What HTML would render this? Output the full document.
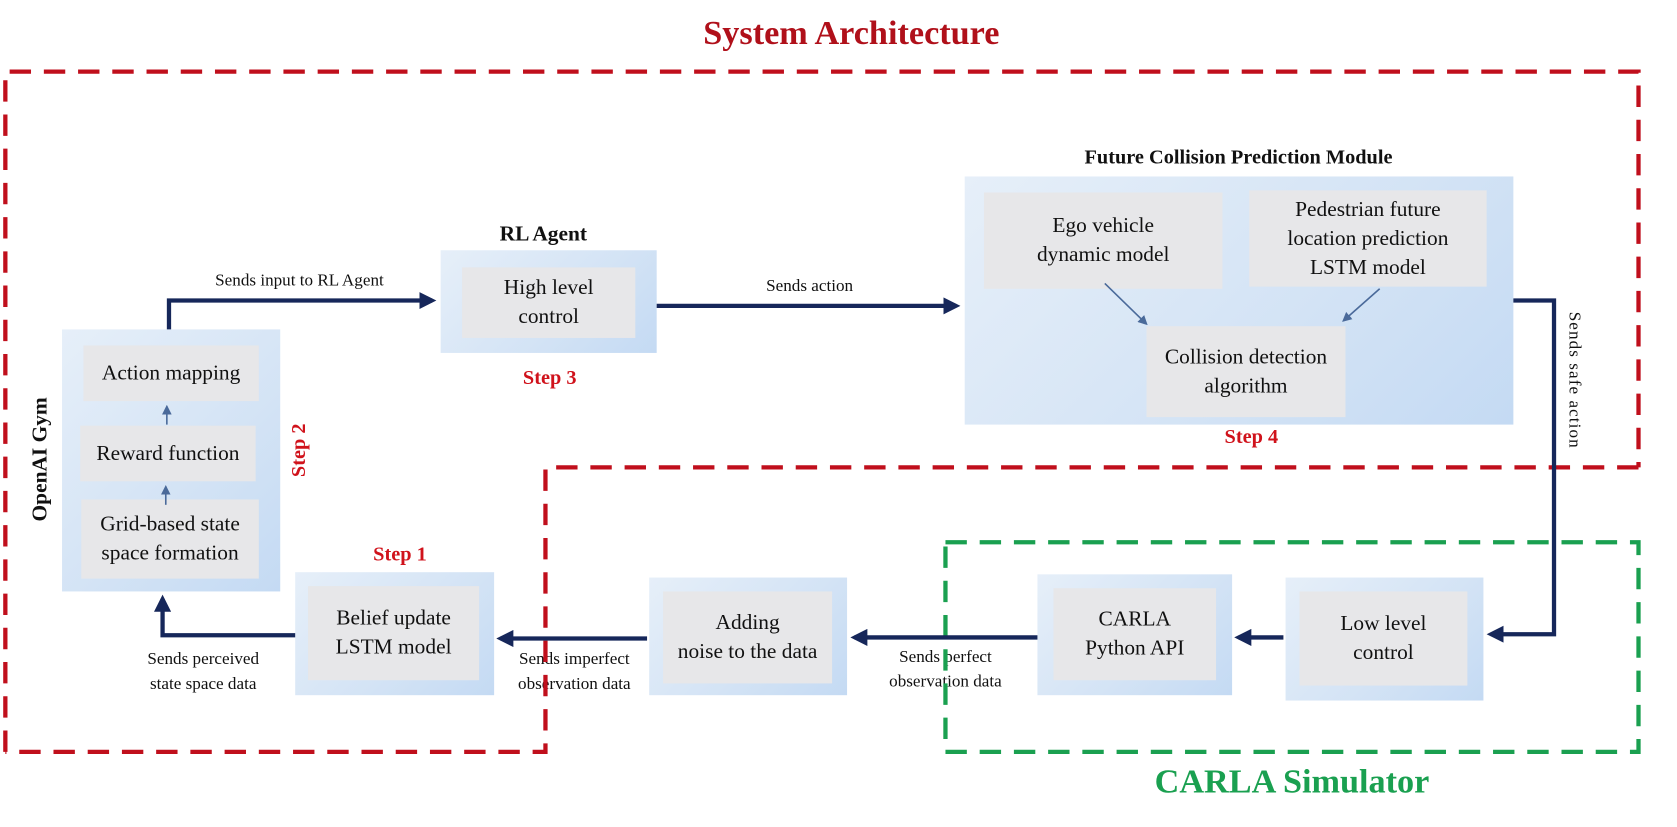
<!DOCTYPE html>
<html><head><meta charset="utf-8"><style>
html,body{margin:0;padding:0;background:#fff;width:1677px;height:827px;overflow:hidden}
#c{position:absolute;left:0;top:0;width:1568px;height:773px;transform:scale(1.06952);transform-origin:0 0;font-family:"Liberation Serif",serif;color:#111}
.p{position:absolute;background:linear-gradient(135deg,#e6eff9 0%,#d3e3f5 60%,#c4daf3 100%)}
.i{position:absolute;background:#e7e7e9;display:flex;align-items:center;justify-content:center;text-align:center;font-size:20px;line-height:27px}
.t{position:absolute;text-align:center;white-space:nowrap}
.lab{font-size:16px;line-height:23px}
.step{color:#d0121b;font-weight:bold;font-size:19px}
svg{position:absolute;left:0;top:0}
</style></head><body><div id="c">
<div class="t" style="left:596px;top:12px;width:400px;font-size:32px;font-weight:bold;color:#b0101a">System Architecture</div>
<div class="t" style="left:1008px;top:712px;width:400px;font-size:32px;font-weight:bold;color:#1aa050">CARLA Simulator</div>

<div class="p" style="left:58px;top:308px;width:204px;height:245px"></div>
<div class="i" style="left:78px;top:323px;width:164px;height:52px">Action mapping</div>
<div class="i" style="left:75px;top:398px;width:164px;height:52px">Reward function</div>
<div class="i" style="left:76px;top:467px;width:166px;height:74px">Grid-based state<br>space formation</div>

<div class="p" style="left:412px;top:234px;width:202px;height:96px"></div>
<div class="i" style="left:432px;top:250px;width:162px;height:66px">High level<br>control</div>
<div class="t" style="left:408px;top:208px;width:200px;font-size:20px;font-weight:bold">RL Agent</div>

<div class="p" style="left:902px;top:165px;width:513px;height:232px"></div>
<div class="i" style="left:920px;top:180px;width:223px;height:90px">Ego vehicle<br>dynamic model</div>
<div class="i" style="left:1168px;top:178px;width:222px;height:90px">Pedestrian future<br>location prediction<br>LSTM model</div>
<div class="i" style="left:1072px;top:305px;width:186px;height:85px">Collision detection<br>algorithm</div>
<div class="t" style="left:958px;top:137px;width:400px;font-size:19px;font-weight:bold">Future Collision Prediction Module</div>

<div class="p" style="left:276px;top:535px;width:186px;height:115px"></div>
<div class="i" style="left:288px;top:548px;width:160px;height:88px">Belief update<br>LSTM model</div>
<div class="p" style="left:607px;top:540px;width:185px;height:110px"></div>
<div class="i" style="left:620px;top:553px;width:158px;height:86px">Adding<br>noise to the data</div>
<div class="p" style="left:970px;top:537px;width:182px;height:113px"></div>
<div class="i" style="left:985px;top:550px;width:152px;height:86px">CARLA<br>Python API</div>
<div class="p" style="left:1202px;top:540px;width:185px;height:115px"></div>
<div class="i" style="left:1215px;top:553px;width:157px;height:88px">Low level<br>control</div>

<div class="t step" style="left:474px;top:343px;width:80px">Step 3</div>
<div class="t step" style="left:1130px;top:398px;width:80px">Step 4</div>
<div class="t step" style="left:334px;top:508px;width:80px">Step 1</div>
<div class="t step" style="left:240px;top:410px;width:80px;transform:rotate(-90deg)">Step 2</div>
<div class="t" style="left:-22px;top:418px;width:120px;font-size:20px;font-weight:bold;transform:rotate(-90deg)">OpenAI Gym</div>
<div class="t lab" style="left:1392px;top:344px;width:160px;transform:rotate(90deg);letter-spacing:1px">Sends safe action</div>

<div class="t lab" style="left:160px;top:251px;width:240px">Sends input to RL Agent</div>
<div class="t lab" style="left:677px;top:256px;width:160px">Sends action</div>
<div class="t lab" style="left:110px;top:605px;width:160px">Sends perceived<br>state space data</div>
<div class="t lab" style="left:457px;top:605px;width:160px">Sends imperfect<br>observation data</div>
<div class="t lab" style="left:804px;top:603px;width:160px">Sends perfect<br>observation data</div>

<svg width="1568" height="773" viewBox="0 0 1568 773">
<defs><marker id="a" markerWidth="4" markerHeight="4" refX="3" refY="2" orient="auto"><path d="M0,0 L4,2 L0,4 z" fill="#16275a"/></marker>
<marker id="b" markerWidth="6" markerHeight="6" refX="5" refY="3" orient="auto"><path d="M0,0 L6,3 L0,6 z" fill="#4a6a9a"/></marker></defs>
<g fill="none" stroke="#c00f1c" stroke-width="4" stroke-dasharray="20,12">
<path d="M5,703 V67 H1532 V437"/>
<path d="M1532,437 H510 V703 H5"/>
</g>
<path d="M884,507 H1532 V703 H884 Z" fill="none" stroke="#1aa050" stroke-width="4" stroke-dasharray="20,12"/>
<g fill="none" stroke="#16275a" stroke-width="4" marker-end="url(#a)">
<path d="M158,308 V281 H404"/>
<path d="M614,286 H894"/>
<path d="M1415,281 H1453 V593 H1394"/>
<path d="M1200,596 H1158"/>
<path d="M970,596 H799"/>
<path d="M605,597 H468"/>
<path d="M276,594 H152 V560"/>
</g>
<g stroke="#4a6a9a" stroke-width="1.5" marker-end="url(#b)">
<path d="M156,397 V380"/><path d="M155,472 V455"/>
<path d="M1033,265 L1072,303"/><path d="M1290,270 L1256,300"/>
</g>
</svg>
</div></body></html>
